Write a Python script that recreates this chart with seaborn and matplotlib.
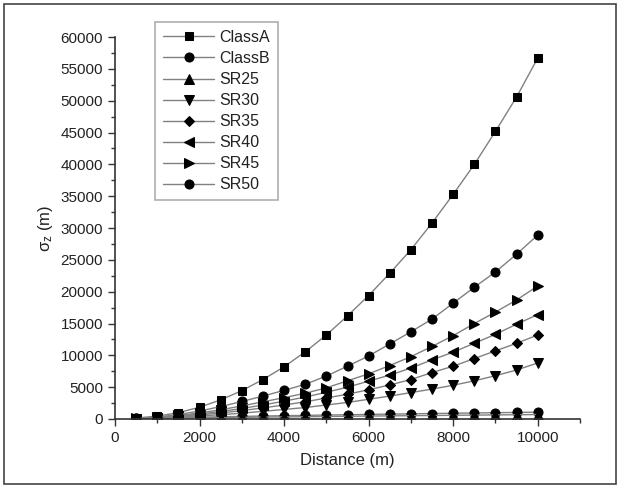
import matplotlib
matplotlib.use("Agg")
import matplotlib.pyplot as plt
import seaborn as sns
import pandas as pd
from matplotlib.ticker import MultipleLocator
from matplotlib.patches import Rectangle

distance = [500, 1000, 1500, 2000, 2500, 3000, 3500, 4000, 4500, 5000,
            5500, 6000, 6500, 7000, 7500, 8000, 8500, 9000, 9500, 10000]

class_a = [150, 450, 1000, 1850, 3000, 4450, 6200, 8200, 10550, 13200,
           16200, 19400, 22900, 26600, 30800, 35300, 40000, 45200, 50600, 56700]
class_b = [80, 150, 220, 290, 350, 410, 470, 520, 570, 620,
           670, 720, 770, 810, 860, 900, 950, 990, 1030, 1080]
sr25 = [40, 90, 140, 180, 220, 260, 300, 330, 360, 400,
        430, 460, 490, 520, 550, 580, 610, 640, 670, 700]
sr30 = [50, 140, 280, 460, 680, 920, 1200, 1500, 1800, 2200,
        2600, 3100, 3600, 4150, 4700, 5300, 6000, 6800, 7700, 8800]
sr35 = [60, 180, 370, 630, 950, 1320, 1750, 2200, 2700, 3300,
        3900, 4600, 5350, 6200, 7300, 8300, 9500, 10700, 11900, 13200]
sr40 = [70, 210, 450, 780, 1180, 1650, 2200, 2800, 3450, 4200,
        5000, 5950, 6900, 8000, 9300, 10500, 11900, 13300, 14900, 16400]
sr45 = [80, 250, 550, 950, 1450, 2050, 2700, 3350, 4050, 4900,
        6000, 7100, 8400, 9800, 11400, 13100, 15000, 16800, 18700, 20900]
sr50 = [100, 300, 700, 1250, 1950, 2750, 3600, 4500, 5450, 6750,
        8300, 9900, 11800, 13700, 15700, 18200, 20700, 23100, 25900, 28900]

series_names = ["ClassA", "ClassB", "SR25", "SR30", "SR35", "SR40", "SR45", "SR50"]
series_values = [class_a, class_b, sr25, sr30, sr35, sr40, sr45, sr50]
markers = ["s", "o", "^", "v", "D", "<", ">", "o"]
msizes = [6, 6.5, 6.5, 6.5, 5.5, 6.5, 6.5, 6.5]

sns.set_theme(style="ticks")
plt.rcParams['font.family'] = ['Liberation Sans', 'DejaVu Sans']
plt.rcParams['mathtext.default'] = 'regular'

fig = plt.figure(figsize=(6.2, 4.88), dpi=100)
ax = fig.add_axes([0.1855, 0.1414, 0.75, 0.7826])

for name, vals, mk, ms in zip(series_names, series_values, markers, msizes):
    df = pd.DataFrame({"Distance": distance, "sigma": vals})
    sns.lineplot(data=df, x="Distance", y="sigma", ax=ax, color="#808080",
                 linewidth=1.0, marker=mk, markersize=ms,
                 markerfacecolor="black", markeredgecolor="black",
                 label=name, estimator=None, sort=False)

ax.set_xlim(0, 11000)
ax.set_ylim(0, 60000)
ax.xaxis.set_major_locator(MultipleLocator(2000))
ax.xaxis.set_minor_locator(MultipleLocator(1000))
ax.yaxis.set_major_locator(MultipleLocator(5000))
ax.yaxis.set_minor_locator(MultipleLocator(2500))
ax.tick_params(axis='both', which='major', length=5, width=1, labelsize=11,
               color='#333333', labelcolor='#222222', direction='out')
ax.tick_params(axis='both', which='minor', length=3, width=1, color='#333333')
for s in ['top', 'right']:
    ax.spines[s].set_visible(False)
for s in ['left', 'bottom']:
    ax.spines[s].set_color('#333333')
    ax.spines[s].set_linewidth(1.2)

ax.set_xlabel("Distance (m)", fontsize=12, color='#222222', labelpad=6)
ax.set_ylabel(r"σ$_{z}$ (m)", fontsize=12, color='#222222', labelpad=4)

leg = ax.legend(loc='upper left', bbox_to_anchor=(155 / 620, 1 - 22 / 488),
                bbox_transform=fig.transFigure, fontsize=11.5, frameon=True,
                fancybox=False, handlelength=3.2, labelspacing=0.38,
                borderpad=0.5, handletextpad=0.3, borderaxespad=0)
leg.get_frame().set_edgecolor('#999999')
leg.get_frame().set_linewidth(1.2)
for t in leg.get_texts():
    t.set_color('#222222')

fig.patches.append(Rectangle((4 / 620, 4 / 488), 612 / 620, 480 / 488,
                             transform=fig.transFigure, fill=False,
                             edgecolor='#444444', linewidth=1.2))

fig.savefig("out.png", dpi=100)
